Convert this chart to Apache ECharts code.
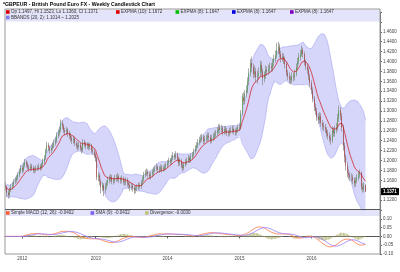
<!DOCTYPE html>
<html><head><meta charset="utf-8">
<script src="https://cdn.jsdelivr.net/npm/echarts@6/dist/echarts.min.js"></script>
<style>html,body{margin:0;padding:0;background:#fff}#c{width:400px;height:272px}</style>
</head><body><div id="c"></div>
<script>
// ---- data (weekly GBPEUR, Oct 2011 - Oct 2016) ----
const firstOpen = 1.150;
const closes = [1.146,1.135,1.130,1.140,1.146,1.150,1.157,1.160,1.165,1.171,
1.178,1.185,1.180,1.190,1.197,1.192,1.187,1.183,1.188,1.185,
1.180,1.181,1.184,1.185,1.188,1.185,1.191,1.198,1.205,1.218,
1.231,1.226,1.220,1.225,1.230,1.235,1.240,1.251,1.255,1.262,
1.276,1.270,1.261,1.258,1.262,1.255,1.250,1.245,1.240,1.244,
1.235,1.230,1.227,1.232,1.225,1.221,1.237,1.233,1.229,1.231,
1.227,1.230,1.221,1.218,1.212,1.205,1.166,1.170,1.158,1.146,
1.150,1.140,1.148,1.154,1.160,1.163,1.166,1.158,1.160,1.165,
1.164,1.168,1.162,1.160,1.163,1.158,1.156,1.160,1.154,1.150,
1.146,1.148,1.144,1.140,1.144,1.146,1.150,1.148,1.154,1.162,
1.171,1.175,1.177,1.172,1.168,1.171,1.176,1.181,1.184,1.187,
1.181,1.183,1.186,1.182,1.185,1.187,1.190,1.195,1.200,1.197,
1.205,1.210,1.207,1.212,1.204,1.195,1.199,1.190,1.185,1.192,
1.197,1.200,1.205,1.201,1.208,1.211,1.218,1.225,1.230,1.236,
1.241,1.244,1.247,1.240,1.243,1.245,1.250,1.247,1.241,1.245,
1.248,1.252,1.255,1.260,1.267,1.262,1.265,1.258,1.263,1.261,
1.256,1.255,1.260,1.261,1.264,1.259,1.257,1.262,1.266,1.267,
1.296,1.328,1.320,1.335,1.342,1.360,1.377,1.397,1.389,1.375,
1.380,1.368,1.372,1.377,1.393,1.380,1.366,1.372,1.383,1.380,
1.385,1.390,1.387,1.397,1.405,1.413,1.423,1.430,1.415,1.407,
1.410,1.403,1.395,1.377,1.370,1.365,1.362,1.370,1.368,1.375,
1.389,1.400,1.409,1.415,1.423,1.415,1.399,1.390,1.383,1.370,
1.356,1.342,1.325,1.308,1.300,1.288,1.282,1.290,1.276,1.270,
1.267,1.262,1.255,1.250,1.245,1.241,1.261,1.255,1.262,1.267,
1.285,1.302,1.290,1.267,1.230,1.207,1.190,1.175,1.170,1.166,
1.166,1.160,1.154,1.160,1.166,1.170,1.175,1.146,1.142,1.1497,1.1371];
const highs = [1.156,1.150,1.140,1.145,1.152,1.156,1.162,1.166,1.170,1.176,
1.183,1.191,1.190,1.195,1.203,1.201,1.197,1.192,1.194,1.193,
1.190,1.187,1.190,1.191,1.194,1.193,1.196,1.204,1.211,1.224,
1.238,1.236,1.230,1.232,1.236,1.242,1.247,1.257,1.262,1.268,
1.283,1.281,1.274,1.266,1.268,1.266,1.260,1.256,1.250,1.250,
1.248,1.240,1.236,1.238,1.236,1.230,1.243,1.242,1.238,1.237,
1.236,1.236,1.234,1.227,1.223,1.216,1.208,1.177,1.174,1.162,
1.156,1.154,1.155,1.160,1.167,1.170,1.173,1.171,1.166,1.171,
1.172,1.175,1.172,1.167,1.170,1.168,1.164,1.166,1.165,1.159,
1.156,1.154,1.153,1.149,1.150,1.152,1.156,1.155,1.160,1.168,
1.177,1.181,1.184,1.182,1.177,1.177,1.182,1.187,1.190,1.194,
1.191,1.189,1.192,1.191,1.190,1.193,1.196,1.201,1.206,1.205,
1.211,1.217,1.215,1.219,1.216,1.208,1.205,1.203,1.195,1.197,
1.203,1.206,1.211,1.210,1.214,1.217,1.224,1.231,1.237,1.243,
1.248,1.252,1.254,1.252,1.250,1.252,1.257,1.256,1.252,1.252,
1.255,1.259,1.262,1.267,1.274,1.273,1.272,1.270,1.270,1.269,
1.266,1.262,1.266,1.268,1.271,1.269,1.265,1.268,1.273,1.274,
1.302,1.335,1.338,1.342,1.352,1.368,1.386,1.405,1.410,1.396,
1.392,1.387,1.382,1.388,1.402,1.400,1.386,1.380,1.392,1.390,
1.394,1.398,1.397,1.405,1.414,1.422,1.438,1.440,1.436,1.422,
1.418,1.416,1.410,1.400,1.383,1.378,1.372,1.378,1.377,1.384,
1.396,1.408,1.417,1.424,1.432,1.428,1.420,1.404,1.396,1.388,
1.375,1.362,1.348,1.330,1.315,1.306,1.295,1.298,1.296,1.282,
1.277,1.274,1.268,1.262,1.257,1.252,1.268,1.267,1.270,1.276,
1.294,1.311,1.308,1.296,1.272,1.236,1.212,1.196,1.182,1.176,
1.174,1.172,1.166,1.166,1.172,1.178,1.182,1.178,1.154,1.156,1.1523];
const lows = [1.140,1.126,1.124,1.127,1.136,1.141,1.146,1.152,1.155,1.160,
1.166,1.174,1.174,1.176,1.186,1.186,1.182,1.177,1.178,1.179,
1.175,1.174,1.176,1.179,1.180,1.179,1.181,1.186,1.193,1.201,
1.214,1.219,1.213,1.215,1.220,1.225,1.230,1.235,1.245,1.250,
1.257,1.263,1.255,1.251,1.252,1.248,1.243,1.238,1.233,1.234,
1.229,1.224,1.220,1.222,1.219,1.214,1.217,1.227,1.223,1.223,
1.221,1.222,1.215,1.212,1.206,1.198,1.160,1.158,1.150,1.133,
1.138,1.128,1.134,1.142,1.149,1.154,1.157,1.152,1.151,1.154,
1.157,1.158,1.155,1.153,1.154,1.151,1.149,1.150,1.147,1.143,
1.138,1.140,1.137,1.132,1.134,1.138,1.140,1.142,1.143,1.150,
1.157,1.166,1.169,1.166,1.162,1.162,1.166,1.171,1.176,1.179,
1.175,1.175,1.177,1.176,1.177,1.179,1.181,1.185,1.190,1.191,
1.192,1.200,1.201,1.202,1.198,1.188,1.189,1.184,1.178,1.180,
1.187,1.191,1.195,1.195,1.196,1.202,1.206,1.213,1.219,1.225,
1.231,1.235,1.238,1.233,1.234,1.237,1.239,1.240,1.234,1.235,
1.239,1.242,1.246,1.249,1.254,1.255,1.256,1.251,1.252,1.254,
1.249,1.248,1.249,1.254,1.255,1.252,1.250,1.251,1.256,1.259,
1.262,1.290,1.312,1.314,1.328,1.336,1.352,1.370,1.378,1.366,
1.368,1.358,1.355,1.365,1.370,1.372,1.352,1.358,1.365,1.372,
1.373,1.378,1.379,1.380,1.390,1.398,1.406,1.415,1.408,1.398,
1.400,1.395,1.386,1.370,1.362,1.356,1.354,1.356,1.360,1.362,
1.370,1.383,1.394,1.402,1.410,1.408,1.392,1.383,1.375,1.362,
1.348,1.334,1.318,1.300,1.292,1.280,1.274,1.275,1.268,1.262,
1.259,1.255,1.247,1.242,1.237,1.232,1.236,1.248,1.248,1.255,
1.260,1.278,1.282,1.258,1.220,1.196,1.180,1.166,1.162,1.158,
1.157,1.152,1.146,1.147,1.154,1.160,1.164,1.140,1.135,1.136,1.1360];
const yearStartWeeks = [12, 65, 117, 169, 221];
const yearLabels = ['2012', '2013', '2014', '2015', '2016'];
const padWeeks = 10;

const titleText = '*GBPEUR - British Pound Euro FX - Weekly Candlestick Chart';
const legendMain = [
  ['Op 1.1497, Hi 1.1523, Lo 1.1360, Cl 1.1371', '#e00000', 6, 12],
  ['EXPMA (10): 1.1672', '#e00000', 116, 12],
  ['EXPMA (8): 1.1647', '#00c000', 175.5, 12],
  ['EXPMA (8): 1.1647', '#0000e0', 232, 12],
  ['EXPMA (8): 1.1647', '#8000c0', 290, 12],
  ['BBANDS (20, 2): 1.1014 ~ 1.2025', '#8080f0', 6, 17.5]
];
const legendMacd = [
  ['Simple MACD (12, 26): -0.0402', '#ff6030', 6, 213],
  ['SMA (9): -0.0432', '#8060f0', 90.5, 213],
  ['Divergence: -0.0030', '#c0c080', 145, 213]
];

// ---- derived ----
const n = closes.length;
const opens = [firstOpen].concat(closes.slice(0, n - 1));
const cats = Array.from({length: n + padWeeks}, (_, i) => String(i));
const candles = closes.map((c, i) => [opens[i], c, lows[i], highs[i]]);
const bodies = closes.map((c, i) => [opens[i], c, Math.min(opens[i], c), Math.max(opens[i], c)]);

function sma(arr, len, i) {
  const s = Math.max(0, i - len + 1); let t = 0;
  for (let j = s; j <= i; j++) t += arr[j];
  return t / (i - s + 1);
}
const ema = []; const k = 2 / 11;
closes.forEach((c, i) => ema.push(i === 0 ? c : c * k + ema[i - 1] * (1 - k)));
const bbU = [], bbL = [], bbW = [];
closes.forEach((c, i) => {
  const s = Math.max(0, i - 19); const m = sma(closes, 20, i); let v = 0;
  for (let j = s; j <= i; j++) v += (closes[j] - m) ** 2;
  const sd = Math.sqrt(v / (i - s + 1));
  bbU.push(m + 2 * sd); bbL.push(m - 2 * sd); bbW.push(4 * sd);
});
const macd = closes.map((c, i) => sma(closes, 12, i) - sma(closes, 26, i));
const sig = macd.map((m, i) => sma(macd, 9, i));
const hist = macd.map((m, i) => m - sig[i]);

const F = 'Liberation Sans, Arial, sans-serif';
const lab = {fontSize: 4.5, color: '#444', fontFamily: F};
const isYear = (idx) => yearStartWeeks.indexOf(idx) >= 0;

const graphics = [];
graphics.push({type: 'rect', shape: {x: 5.5, y: 9.5, width: 374.5, height: 12}, style: {fill: '#e3e3f9'}, z: -1, silent: true});
graphics.push({type: 'rect', shape: {x: 5.5, y: 210, width: 374.5, height: 6}, style: {fill: '#e3e3f9'}, z: -1, silent: true});
graphics.push({type: 'text', x: 3, y: 2, style: {text: titleText, font: 'bold 5.2px ' + F, fill: '#000'}, z: 10});
legendMain.concat(legendMacd).forEach(([t, col, x, y]) => {
  graphics.push({type: 'rect', shape: {x: x, y: y - 1.8, width: 3.6, height: 3.6}, style: {fill: col}, z: 10});
  graphics.push({type: 'text', x: x + 5, y: y, style: {text: t, font: '4.5px ' + F, fill: '#333', textVerticalAlign: 'middle'}, z: 10});
});
graphics.push({type: 'rect', shape: {x: 5, y: 9, width: 375, height: 245}, style: {fill: 'none', stroke: '#999', lineWidth: 1}, z: 5, silent: true});
graphics.push({type: 'line', shape: {x1: 5, y1: 209.5, x2: 380, y2: 209.5}, style: {stroke: '#555', lineWidth: 1}, z: 5});

const chart = echarts.init(document.getElementById('c'), null, {renderer: 'canvas'});
chart.setOption({
  animation: false,
  backgroundColor: '#fff',
  grid: [
    {left: 5, right: 20, top: 12, height: 198},
    {left: 5, right: 20, top: 210, height: 44}
  ],
  xAxis: [
    {type: 'category', gridIndex: 0, data: cats, boundaryGap: true,
     axisLine: {show: false}, axisTick: {show: false}, axisLabel: {show: false}, splitLine: {show: false}},
    {type: 'category', gridIndex: 1, data: cats, boundaryGap: true,
     axisLine: {show: true, lineStyle: {color: '#555', width: 1}},
     axisTick: {show: true, interval: isYear, length: 2, alignWithLabel: true, lineStyle: {color: '#555'}},
     axisLabel: Object.assign({interval: isYear, margin: 2.5,
       formatter: (v) => yearLabels[yearStartWeeks.indexOf(Number(v))] || ''}, lab),
     splitLine: {show: false}}
  ],
  yAxis: [
    {type: 'value', gridIndex: 0, position: 'right', min: 1.10, max: 1.50, interval: 0.02,
     axisLine: {show: true, lineStyle: {color: '#666', width: 1}},
     axisTick: {show: true, length: 2, lineStyle: {color: '#666'}},
     axisLabel: Object.assign({margin: 3,
       formatter: (v) => (v > 1.115 && v < 1.465) ? v.toFixed(4) : ''}, lab),
     splitLine: {show: false}},
    {type: 'value', gridIndex: 1, position: 'right', min: -0.10, max: 0.15, interval: 0.05,
     axisLine: {show: true, lineStyle: {color: '#666', width: 1}},
     axisTick: {show: true, length: 2, lineStyle: {color: '#666'}},
     axisLabel: Object.assign({margin: 3,
       formatter: (v) => (v < 0.12) ? v.toFixed(2) : ''}, lab),
     splitLine: {show: false}}
  ],
  series: [
    {type: 'line', z: 1, data: bbL, stack: 'bb', symbol: 'none', lineStyle: {opacity: 0}, silent: true},
    {type: 'line', z: 1, data: bbW, stack: 'bb', symbol: 'none', lineStyle: {opacity: 0},
     areaStyle: {color: '#d6d6fb', opacity: 1}, silent: true},
    {type: 'line', z: 1, data: bbU, symbol: 'none', lineStyle: {color: '#aeaef2', width: 0.7}, silent: true},
    {type: 'line', z: 1, data: bbL, symbol: 'none', lineStyle: {color: '#aeaef2', width: 0.7}, silent: true},
    {type: 'candlestick', z: 3, data: candles, barWidth: 1,
     itemStyle: {color: '#8a8a8a', color0: '#8a8a8a', borderColor: '#8a8a8a', borderColor0: '#8a8a8a', borderWidth: 0.7}},
    {type: 'candlestick', z: 4, data: bodies, barWidth: 1.3,
     itemStyle: {color: '#18b018', color0: '#c00000', borderColor: '#18a018', borderColor0: '#b00000', borderWidth: 0.4}},
    {type: 'line', z: 5, data: ema, symbol: 'none', lineStyle: {color: '#d01010', width: 0.7}, silent: true},
    {type: 'bar', xAxisIndex: 1, yAxisIndex: 1, data: hist, barWidth: 1, itemStyle: {color: '#bcbc84'}, silent: true},
    {type: 'line', xAxisIndex: 1, yAxisIndex: 1, data: macd, symbol: 'none', lineStyle: {color: '#ff7a45', width: 0.8}, silent: true},
    {type: 'line', xAxisIndex: 1, yAxisIndex: 1, data: sig, symbol: 'none', lineStyle: {color: '#9a80ff', width: 0.8}, silent: true}
  ],
  graphic: graphics
});
const lastY = chart.convertToPixel({yAxisIndex: 0}, closes[n - 1]);
graphics.push({type: 'rect', shape: {x: 381, y: lastY - 3.5, width: 18, height: 7}, style: {fill: '#000'}, z: 20});
graphics.push({type: 'text', x: 383, y: lastY, style: {text: closes[n - 1].toFixed(4), font: 'bold 4.5px ' + F, fill: '#fff', textVerticalAlign: 'middle'}, z: 21});
chart.setOption({graphic: graphics});
</script></body></html>
